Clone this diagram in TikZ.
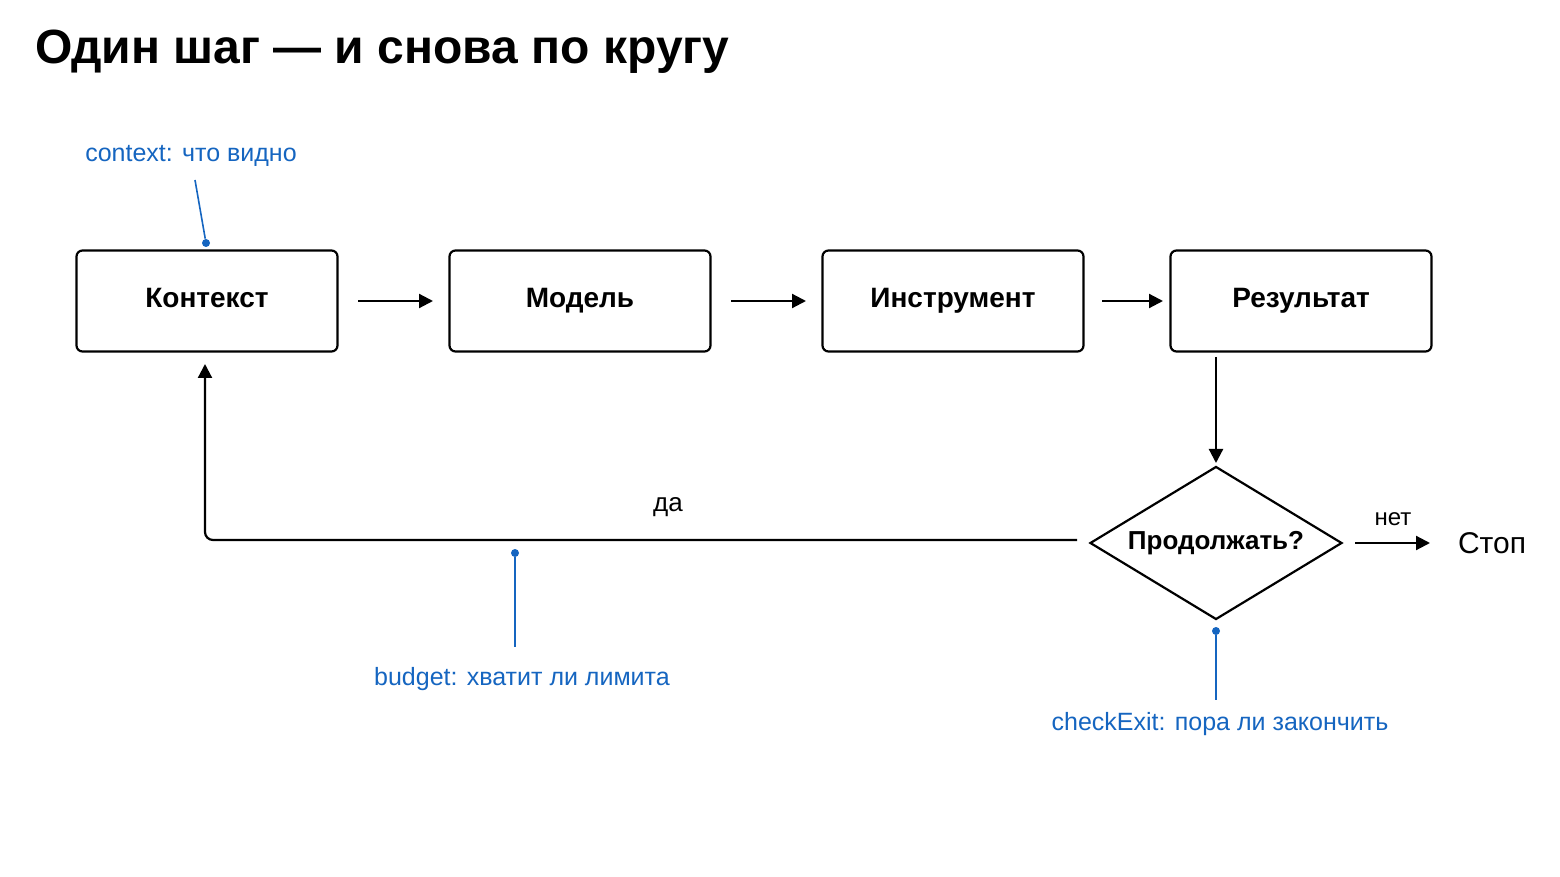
\documentclass[tikz,border=0pt]{standalone}
\usepackage{fontspec}
\setmainfont{Liberation Sans}
\usetikzlibrary{shapes.geometric,arrows.meta}
\definecolor{ann}{HTML}{1565C0}
\begin{document}
\begin{tikzpicture}[x=0.5pt,y=-0.5pt,
  box/.style={draw,line width=1.1pt,rounded corners=3pt,minimum width=130.5pt,minimum height=50.5pt,text height=1.5ex,text depth=0.3ex,font=\bfseries\fontsize{14}{16}\selectfont},
  arr/.style={line width=1.1pt,-{Triangle[length=7pt,width=7pt]}},
  note/.style={text=ann,font=\fontsize{12.5}{14}\selectfont},
  nline/.style={draw=ann,line width=0.8pt},
  dot/.style={circle,fill=ann,inner sep=0,minimum size=4pt}]
\useasboundingbox (0,0) rectangle (1560,877);
\node[anchor=west,font=\bfseries\fontsize{24}{28}\selectfont] (title) at (28,52) {Один шаг — и снова по кругу};
\node[box] (ctx) at (207,301) {Контекст};
\node[box] (mod) at (580,301) {Модель};
\node[box] (ins) at (953,301) {Инструмент};
\node[box] (res) at (1301,301) {Результат};
\node[draw,diamond,line width=1.1pt,aspect=1.65,minimum width=126pt,minimum height=76.5pt,inner sep=0,text height=1.5ex,text depth=0.3ex,font=\bfseries\fontsize{13}{15}\selectfont] (dec) at (1216,543) {Продолжать?};
\node[font=\fontsize{15}{17}\selectfont] (stop) at (1492,543) {Стоп};
\coordinate (a1) at (358,301); \coordinate (a2) at (433,301);
\coordinate (b1) at (731,301); \coordinate (b2) at (806,301);
\coordinate (c1) at (1102,301); \coordinate (c2) at (1163,301);
\draw[arr] (a1) -- (a2);
\draw[arr] (b1) -- (b2);
\draw[arr] (c1) -- (c2);
\coordinate (r1) at (1216,357); \coordinate (r2) at (1216,463);
\draw[arr] (r1) -- (r2);
\coordinate (l1) at (1077,540); \coordinate (l2) at (205,540); \coordinate (l3) at (205,364);
\draw[arr,rounded corners=4pt] (l1) -- (l2) -- (l3);
\node[font=\fontsize{13}{15}\selectfont] (da) at (668,507) {да};
\coordinate (n1) at (1355,543); \coordinate (n2) at (1430,543);
\draw[arr] (n1) -- (n2);
\node[font=\fontsize{12}{14}\selectfont] (net) at (1393,519) {нет};
\node[note] (nctx) at (191,156) {context: что видно};
\node[dot] (d1) at (206,243) {};
\coordinate (e1) at (195,180);
\draw[nline] (e1) -- (d1);
\node[dot] (d2) at (515,553) {};
\coordinate (e2) at (515,647);
\draw[nline] (d2) -- (e2);
\node[note] (nb) at (522,679) {budget: хватит ли лимита};
\node[dot] (d3) at (1216,631) {};
\coordinate (e3) at (1216,700);
\draw[nline] (d3) -- (e3);
\node[note] (nc) at (1220,724) {checkExit: пора ли закончить};
\end{tikzpicture}
\end{document}
